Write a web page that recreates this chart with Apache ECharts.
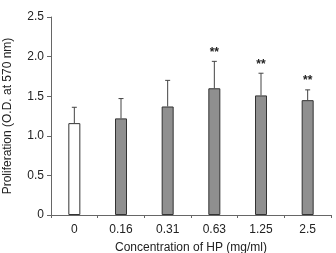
<!DOCTYPE html>
<html><head><meta charset="utf-8">
<script src="https://cdn.jsdelivr.net/npm/echarts@6/dist/echarts.min.js"></script>
<style>html,body{margin:0;padding:0;background:#fff}#c{width:336px;height:253px}</style>
</head><body><div id="c"></div>
<script>
const categories = ['0', '0.16', '0.31', '0.63', '1.25', '2.5'];
const means = [1.16, 1.22, 1.37, 1.60, 1.51, 1.45];
const errors = [0.20, 0.25, 0.33, 0.34, 0.28, 0.13];
const marks = ['', '', '', '**', '**', '**'];
const yTicks = [0, 0.5, 1.0, 1.5, 2.0, 2.5];

const chart = echarts.init(document.getElementById('c'));
const font = 'Arial, "Liberation Sans", sans-serif';
chart.setOption({
  animation: false,
  grid: {left: 51, right: 5, top: 17, bottom: 38, outerBoundsMode: 'none', containLabel: false},
  xAxis: {
    type: 'category', data: categories,
    name: 'Concentration of HP (mg/ml)', nameLocation: 'middle', nameGap: 27,
    nameTextStyle: {fontFamily: font, fontSize: 12, color: '#222'},
    axisLine: {lineStyle: {color: '#666', width: 1}},
    axisTick: {show: true, length: 3, lineStyle: {color: '#666'}},
    axisLabel: {fontFamily: font, fontSize: 12, color: '#222', margin: 9}
  },
  yAxis: {
    type: 'value', min: 0, max: 2.5, interval: 0.5,
    name: 'Proliferation (O.D. at 570 nm)', nameLocation: 'middle', nameGap: 37,
    nameTextStyle: {fontFamily: font, fontSize: 12, color: '#222'},
    axisLine: {show: true, lineStyle: {color: '#666', width: 1}},
    axisTick: {show: true, length: 4, lineStyle: {color: '#666'}},
    splitLine: {show: false},
    axisLabel: {fontFamily: font, fontSize: 12, color: '#222', margin: 7,
      formatter: v => { const t = yTicks.find(x => Math.abs(x - v) < 1e-9); return t === 0 ? '0' : t.toFixed(1); }}
  },
  series: [
    {
      type: 'bar', barWidth: 12,
      data: means.map((m, i) => ({value: m, itemStyle: {color: i === 0 ? '#ffffff' : '#8f8f8f'}})),
      itemStyle: {borderColor: '#333', borderWidth: 1}
    },
    {
      type: 'custom',
      data: means.map((m, i) => [i, m, m + errors[i], marks[i]]),
      renderItem: (params, api) => {
        const base = api.coord([api.value(0), api.value(1)]);
        const top = api.coord([api.value(0), api.value(2)]);
        const mk = marks[params.dataIndex];
        const children = [
          {type: 'line', shape: {x1: base[0], y1: base[1], x2: top[0], y2: top[1]}, style: {stroke: '#444', lineWidth: 1}},
          {type: 'line', shape: {x1: top[0] - 2.5, y1: top[1], x2: top[0] + 2.5, y2: top[1]}, style: {stroke: '#444', lineWidth: 1}}
        ];
        if (mk) children.push({type: 'text', x: top[0], y: top[1] - 9,
          style: {text: mk, fill: '#222', font: 'bold 12px ' + font, align: 'center', verticalAlign: 'middle'}});
        return {type: 'group', children};
      },
      z: 3
    }
  ]
});
</script></body></html>
